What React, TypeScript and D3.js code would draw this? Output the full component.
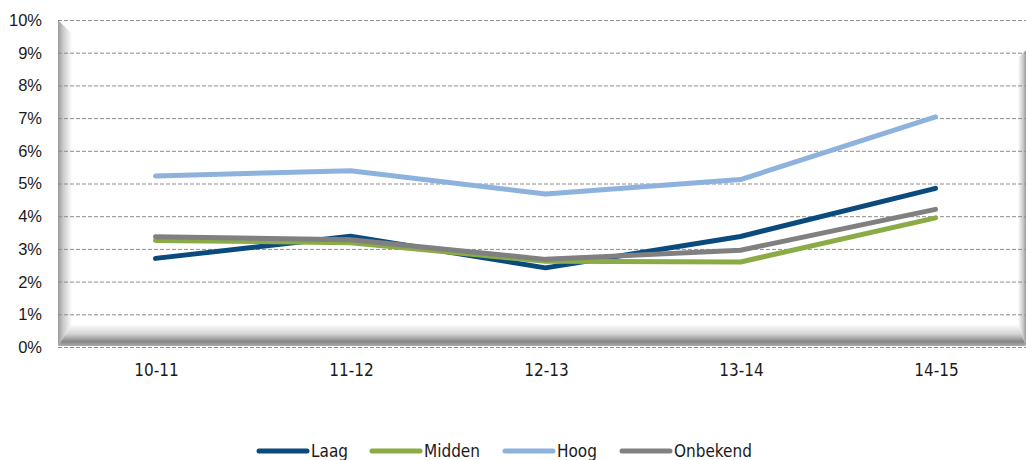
import React, { useEffect, useRef } from 'react';
import * as d3 from 'd3';

// Chart data
const categories = ['10-11', '11-12', '12-13', '13-14', '14-15'];
const laag = [2.71, 3.39, 2.42, 3.38, 4.85];
const midden = [3.26, 3.19, 2.62, 2.6, 3.95];
const hoog = [5.23, 5.39, 4.68, 5.12, 7.04];
const onbekend = [3.37, 3.28, 2.68, 2.96, 4.21];
const yTicks = [0, 1, 2, 3, 4, 5, 6, 7, 8, 9, 10];

const seriesList = [
  { name: 'Laag', values: laag, color: '#0b4a7c' },
  { name: 'Midden', values: midden, color: '#8aab45' },
  { name: 'Hoog', values: hoog, color: '#8eb2de' },
  { name: 'Onbekend', values: onbekend, color: '#808080' },
];

const W = 1026;
const H = 460;

const App = () => {
  const ref = useRef<SVGSVGElement | null>(null);

  useEffect(() => {
    const svg = d3.select(ref.current);
    svg.selectAll('*').remove();

    const left = 58, right = 1033, top = 20, bottom = 347;

    const x = d3.scalePoint<string>()
      .domain(categories)
      .range([left, right])
      .padding(0.5);

    const y = d3.scaleLinear()
      .domain([0, 10])
      .range([bottom, top]);

    // Gradients for the bevelled plot wall
    const defs = svg.append('defs');
    const gl = defs.append('linearGradient').attr('id', 'bevL')
      .attr('x1', 0).attr('x2', 1).attr('y1', 0).attr('y2', 0);
    gl.append('stop').attr('offset', '0%').attr('stop-color', '#9a9a9a');
    gl.append('stop').attr('offset', '35%').attr('stop-color', '#c8c8c8');
    gl.append('stop').attr('offset', '100%').attr('stop-color', '#ffffff');

    const gr = defs.append('linearGradient').attr('id', 'bevR')
      .attr('x1', 1).attr('x2', 0).attr('y1', 0).attr('y2', 0);
    gr.append('stop').attr('offset', '0%').attr('stop-color', '#9a9a9a');
    gr.append('stop').attr('offset', '35%').attr('stop-color', '#c8c8c8');
    gr.append('stop').attr('offset', '100%').attr('stop-color', '#ffffff');

    const gb = defs.append('linearGradient').attr('id', 'bevB')
      .attr('x1', 0).attr('x2', 0).attr('y1', 0).attr('y2', 1);
    gb.append('stop').attr('offset', '0%').attr('stop-color', '#ffffff');
    gb.append('stop').attr('offset', '45%').attr('stop-color', '#d4d4d4');
    gb.append('stop').attr('offset', '80%').attr('stop-color', '#868686');
    gb.append('stop').attr('offset', '100%').attr('stop-color', '#ababab');

    const bw = 14;
    const bh = 23;
    // left bevel
    svg.append('path')
      .attr('d', `M${left},${top} L${left + bw},${top + bw} L${left + bw},${bottom - bh} L${left},${bottom - 1} Z`)
      .attr('fill', 'url(#bevL)');
    // right bevel
    svg.append('path')
      .attr('d', `M${W},${top + 30} L${W - 8},${top + 38} L${W - 8},${bottom - bh} L${W},${bottom - 1} Z`)
      .attr('fill', 'url(#bevR)');
    // bottom bevel
    svg.append('path')
      .attr('d', `M${left + bw},${bottom - bh} L${W - 8},${bottom - bh} L${W},${bottom - 1} L${left},${bottom - 1} Z`)
      .attr('fill', 'url(#bevB)');

    // gridlines
    svg.append('g')
      .selectAll('line')
      .data(yTicks)
      .join('line')
      .attr('x1', left)
      .attr('x2', W)
      .attr('y1', d => y(d) + 0.5)
      .attr('y2', d => y(d) + 0.5)
      .attr('stroke', '#8c8c8c')
      .attr('stroke-width', 1)
      .attr('stroke-dasharray', '4,2');

    // y labels
    svg.append('g')
      .selectAll('text')
      .data(yTicks)
      .join('text')
      .attr('x', 42)
      .attr('y', d => y(d))
      .attr('dy', '0.36em')
      .attr('text-anchor', 'end')
      .attr('font-family', 'Liberation Sans, Arial, sans-serif')
      .attr('font-size', 16.5)
      .attr('fill', '#1a1a1a')
      .text(d => `${d}%`);

    // x labels
    svg.append('g')
      .selectAll('text')
      .data(categories)
      .join('text')
      .attr('x', d => (x(d) as number) + 1)
      .attr('y', 376)
      .attr('text-anchor', 'middle')
      .attr('font-family', 'DejaVu Sans Condensed, Tahoma, sans-serif')
      .attr('font-size', 17)
      .attr('fill', '#1a1a1a')
      .text(d => d);

    // series lines
    const line = d3.line<number>()
      .x((d, i) => x(categories[i]) as number)
      .y(d => y(d));

    seriesList.forEach(s => {
      svg.append('path')
        .datum(s.values)
        .attr('fill', 'none')
        .attr('stroke', s.color)
        .attr('stroke-width', 5)
        .attr('stroke-linecap', 'round')
        .attr('stroke-linejoin', 'round')
        .attr('d', line);
    });

    // legend
    const legendX = [257, 370, 503, 620];
    const lg = svg.append('g');
    seriesList.forEach((s, i) => {
      const g = lg.append('g').attr('transform', `translate(${legendX[i]},451)`);
      g.append('line')
        .attr('x1', 2).attr('x2', 50)
        .attr('y1', 0).attr('y2', 0)
        .attr('stroke', s.color)
        .attr('stroke-width', 5)
        .attr('stroke-linecap', 'round');
      g.append('text')
        .attr('x', 54)
        .attr('y', 0)
        .attr('dy', '0.36em')
        .attr('font-family', 'DejaVu Sans Condensed, Tahoma, sans-serif')
        .attr('font-size', 17)
        .attr('fill', '#1a1a1a')
        .text(s.name);
    });
  }, []);

  return (
    <svg
      ref={ref}
      width={W}
      height={H}
      style={{ position: 'absolute', left: 0, top: 0, background: '#fff' }}
    />
  );
};

export default App;
